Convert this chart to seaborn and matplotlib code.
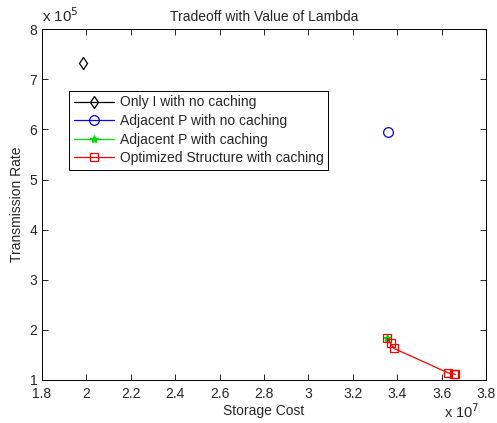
import numpy as np
import pandas as pd
import matplotlib
matplotlib.use("Agg")
import matplotlib.pyplot as plt
import seaborn as sns

# data (storage cost in 1e7, transmission rate in 1e5)
only_i_x = [1.985]
only_i_y = [7.33]
adj_nc_x = [3.357]
adj_nc_y = [5.95]
adj_c_x = [3.355]
adj_c_y = [1.84]
opt_x = [3.355, 3.37, 3.385, 3.63, 3.655, 3.662]
opt_y = [1.84, 1.73, 1.63, 1.14, 1.12, 1.11]

x_ticks = [1.8, 2.0, 2.2, 2.4, 2.6, 2.8, 3.0, 3.2, 3.4, 3.6, 3.8]
x_labels = ["1.8", "2", "2.2", "2.4", "2.6", "2.8", "3", "3.2", "3.4", "3.6", "3.8"]
y_ticks = [1, 2, 3, 4, 5, 6, 7, 8]

sns.set_style("ticks")
plt.rcParams['font.family'] = ['Liberation Sans', 'DejaVu Sans']

fig = plt.figure(figsize=(4.97, 4.23), dpi=100)
ax = fig.add_axes([0.0845, 0.1017, 0.8935, 0.8293])

series = [
    ("Only I with no caching", only_i_x, only_i_y, "black", "d", 6),
    ("Adjacent P with no caching", adj_nc_x, adj_nc_y, "blue", "o", 7),
    ("Adjacent P with caching", adj_c_x, adj_c_y, "#00dd00", "*", 6),
    ("Optimized Structure with caching", opt_x, opt_y, "red", "s", 6),
]
for name, xs, ys, col, mk, ms in series:
    df = pd.DataFrame({"x": xs, "y": ys})
    face = col if mk == "*" else "none"
    sns.lineplot(data=df, x="x", y="y", ax=ax, color=col, marker=mk,
                 markersize=ms, markerfacecolor=face, markeredgecolor=col,
                 markeredgewidth=0.9, linewidth=0.9, sort=False, label=name)

ax.set_xlim(1.8, 3.8)
ax.set_ylim(1, 8)
ax.set_xticks(x_ticks)
ax.set_xticklabels(x_labels)
ax.set_yticks(y_ticks)
ax.tick_params(direction="in", top=True, right=True, labelsize=10, length=4, width=0.7)
ax.tick_params(axis="x", pad=5)
for s in ax.spines.values():
    s.set_linewidth(0.7)
    s.set_color("black")

ax.set_title("Tradeoff with Value of Lambda", fontsize=10)
ax.set_xlabel("Storage Cost", fontsize=10, labelpad=2)
ax.set_ylabel("Transmission Rate", fontsize=10, labelpad=4)
ax.text(0.0, 1.012, r"x 10$^{5}$", transform=ax.transAxes, fontsize=11, ha="left", va="bottom")
ax.text(0.985, -0.065, r"x 10$^{7}$", transform=ax.transAxes, fontsize=10.5, ha="right", va="top")

leg = ax.legend(loc="upper left", bbox_to_anchor=(0.045, 0.845), fontsize=10,
                frameon=True, fancybox=False, edgecolor="black", framealpha=1,
                handlelength=2.9, borderpad=0.35, labelspacing=0.33, handletextpad=0.4)
leg.get_frame().set_linewidth(0.7)

fig.savefig("out.png", dpi=100)
